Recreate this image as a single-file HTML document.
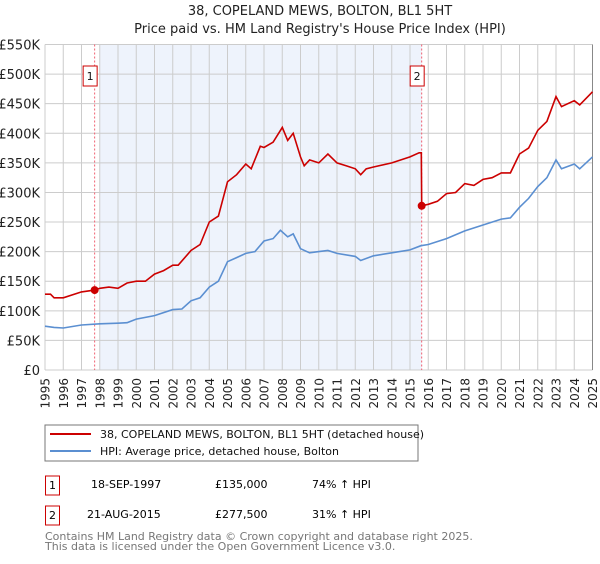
<!DOCTYPE html>
<html><head><meta charset="utf-8"><style>
body{margin:0;background:#fff;font-family:"DejaVu Sans","Liberation Sans",sans-serif;}
svg text{font-family:"DejaVu Sans","Liberation Sans",sans-serif;}
</style></head><body>
<svg id="chart" width="600" height="560">
<text x="320" y="15" text-anchor="middle" font-size="13" fill="#222">38, COPELAND MEWS, BOLTON, BL1 5HT</text>
<text x="320" y="33" text-anchor="middle" font-size="13" fill="#222">Price paid vs. HM Land Registry's House Price Index (HPI)</text>
<g id="plot"></g>
<rect x="45" y="425" width="373" height="36" fill="#fff" stroke="#777"/>
<line x1="50" y1="434" x2="91" y2="434" stroke="#cc0000" stroke-width="2"/>
<text x="100" y="438" font-size="11" fill="#111">38, COPELAND MEWS, BOLTON, BL1 5HT (detached house)</text>
<line x1="50" y1="451" x2="91" y2="451" stroke="#5b8fd1" stroke-width="2"/>
<text x="100" y="455" font-size="11" fill="#111">HPI: Average price, detached house, Bolton</text>
<g>
<rect x="45.5" y="476" width="14" height="19" fill="#fff" stroke="#cc0000"/>
<text x="52.5" y="489" text-anchor="middle" font-size="11">1</text>
<text x="91" y="488" font-size="11">18-SEP-1997</text>
<text x="215" y="488" font-size="11">£135,000</text>
<text x="312" y="488" font-size="11">74% ↑ HPI</text>
</g>
<g>
<rect x="45.5" y="506" width="14" height="19" fill="#fff" stroke="#cc0000"/>
<text x="52.5" y="519" text-anchor="middle" font-size="11">2</text>
<text x="87" y="518" font-size="11">21-AUG-2015</text>
<text x="215" y="518" font-size="11">£277,500</text>
<text x="312" y="518" font-size="11">31% ↑ HPI</text>
</g>
<text x="45" y="540" font-size="11" fill="#777">Contains HM Land Registry data © Crown copyright and database right 2025.</text>
<text x="45" y="550" font-size="11" fill="#777">This data is licensed under the Open Government Licence v3.0.</text>
</svg>
<script>
const yTicks=[0,50000,100000,150000,200000,250000,300000,350000,400000,450000,500000,550000];
const yTickLabels=["£0","£50K","£100K","£150K","£200K","£250K","£300K","£350K","£400K","£450K","£500K","£550K"];
const years=[1995,1996,1997,1998,1999,2000,2001,2002,2003,2004,2005,2006,2007,2008,2009,2010,2011,2012,2013,2014,2015,2016,2017,2018,2019,2020,2021,2022,2023,2024,2025];
const hpiDates=[1995,1995.5,1996,1997,1998,1999,1999.5,2000,2001,2002,2002.5,2003,2003.5,2004,2004.5,2005,2005.5,2006,2006.5,2007,2007.5,2007.9,2008.3,2008.6,2009,2009.5,2010,2010.5,2011,2012,2012.3,2013,2014,2015,2015.6,2016,2017,2018,2019,2020,2020.5,2021,2021.5,2022,2022.5,2023,2023.3,2024,2024.3,2025];
const hpiValues=[74000,72000,71000,76000,78000,79000,80000,86000,92000,102000,103000,117000,122000,140000,150000,183000,190000,197000,200000,218000,222000,236000,225000,230000,205000,198000,200000,202000,197000,192000,185000,193000,198000,203000,210000,212000,222000,235000,245000,255000,257000,275000,290000,310000,325000,355000,340000,348000,340000,360000];
const priceDates=[1995,1995.3,1995.5,1996,1997,1997.72,1998,1998.5,1999,1999.5,2000,2000.5,2001,2001.5,2002,2002.3,2003,2003.5,2004,2004.5,2005,2005.5,2006,2006.3,2006.8,2007,2007.5,2008,2008.3,2008.6,2009,2009.2,2009.5,2010,2010.5,2011,2011.5,2012,2012.3,2012.6,2013,2014,2014.5,2015,2015.5,2015.62,2015.64,2016,2016.5,2017,2017.5,2018,2018.5,2019,2019.5,2020,2020.5,2021,2021.5,2022,2022.5,2023,2023.3,2024,2024.3,2025];
const priceValues=[128000,128000,122000,122000,132000,135000,138000,140000,138000,147000,150000,150000,162000,168000,177000,177000,202000,212000,250000,260000,318000,330000,348000,340000,378000,376000,385000,410000,388000,400000,360000,345000,355000,350000,365000,350000,345000,340000,330000,340000,343000,350000,355000,360000,367000,367000,277500,280000,285000,298000,300000,315000,312000,322000,325000,333000,333000,365000,375000,405000,420000,462000,445000,455000,448000,470000];
const saleDates=[1997.72,2015.64];
const saleValues=[135000,277500];
const saleLabels=["1","2"];

const X0=45,X1=592.5,Y0=370,Y1=44.5;
const xs=d=>X0+(d-1995)/30*(X1-X0);
const ys=v=>Y0-v/550000*(Y0-Y1);
const NS="http://www.w3.org/2000/svg";
const g=document.getElementById('plot');
function mk(t,a){const e=document.createElementNS(NS,t);for(const k in a)e.setAttribute(k,a[k]);g.appendChild(e);return e;}

const shade=mk('rect',{x:xs(1998),y:Y1,width:xs(saleDates[1])-xs(1998),height:Y0-Y1,fill:'#eef3fc'});


yTicks.forEach((v,i)=>{
  const l=mk('line',{x1:X0,x2:X1,y1:ys(v),y2:ys(v),stroke:'#ccc'});
  
  
  const t=mk('text',{x:40,y:ys(v)+5,'text-anchor':'end','font-size':13,fill:'#222'});
  t.textContent=yTickLabels[i];
  
  
});
years.forEach(yr=>{
  const l=mk('line',{x1:xs(yr),x2:xs(yr),y1:Y1,y2:Y0,stroke:yr===2025?'#888':'#ccc'});
  
  
  const t=mk('text',{x:0,y:0,'font-size':12,fill:'#222','text-anchor':'end',transform:`translate(${xs(yr)+4.5},378) rotate(-90)`});
  t.textContent=yr;
  
  
});
saleDates.forEach((d,i)=>{
  const l=mk('line',{x1:xs(d),x2:xs(d),y1:Y1,y2:Y0,stroke:'#f06070','stroke-dasharray':'2,2'});
  
  
});
const path=(ds,vs)=>ds.map((d,i)=>(i?'L':'M')+xs(d).toFixed(1)+','+ys(vs[i]).toFixed(1)).join('');
const hl=mk('path',{d:path(hpiDates,hpiValues),fill:'none',stroke:'#5b8fd1','stroke-width':1.6});


const pl=mk('path',{d:path(priceDates,priceValues),fill:'none',stroke:'#cc0000','stroke-width':1.6});


saleDates.forEach((d,i)=>{
  const c=mk('circle',{cx:xs(d),cy:ys(saleValues[i]),r:4,fill:'#cc0000'});
  
  
  const r=mk('rect',{x:xs(d)-11.5,y:66,width:14,height:20,fill:'#fff',stroke:'#cc0000'});
  
  
  const t=mk('text',{x:xs(d)-4.5,y:80,'text-anchor':'middle','font-size':11,fill:'#111'});
  t.textContent=saleLabels[i];
  
  
});
</script>
</body></html>
